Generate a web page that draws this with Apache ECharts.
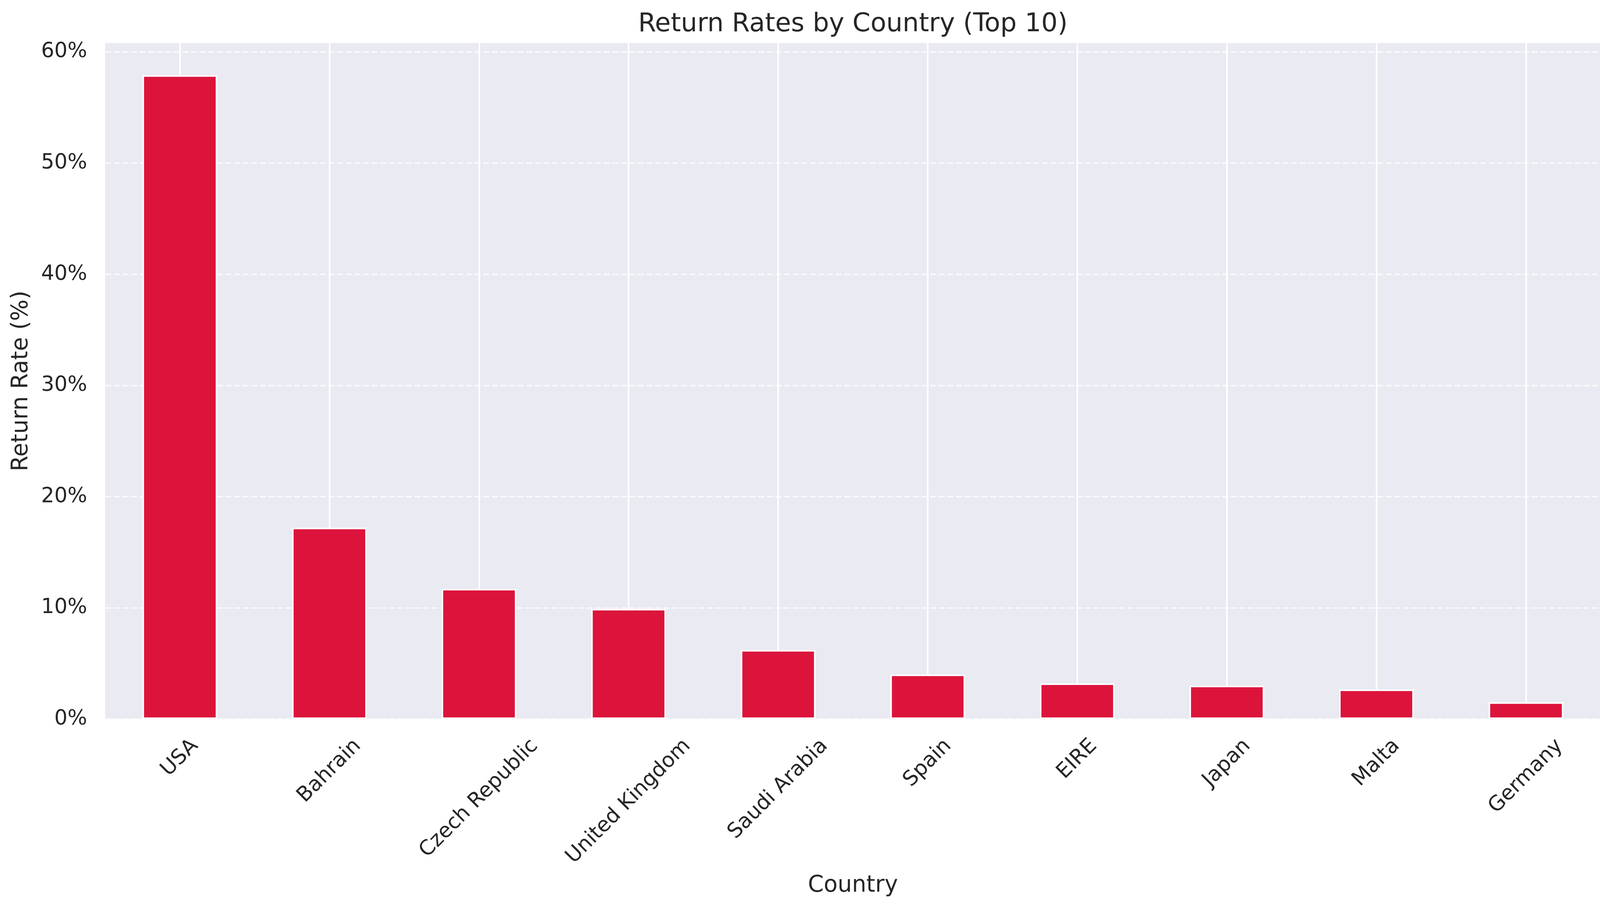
<!DOCTYPE html>
<html><head><meta charset="utf-8">
<script src="https://cdn.jsdelivr.net/npm/echarts@6/dist/echarts.min.js"></script>
<style>html,body{margin:0;padding:0;background:#fff;overflow:hidden}#c{width:4130px;height:2334px}</style>
</head><body><div id="c"></div>
<script>
const countries = ['USA','Bahrain','Czech Republic','United Kingdom','Saudi Arabia','Spain','EIRE','Japan','Malta','Germany'];
const returnRates = [57.9, 17.2, 11.7, 9.9, 6.2, 4.0, 3.2, 3.0, 2.65, 1.5];
const yTickStep = 10;
const titleText = 'Return Rates by Country (Top 10)';
const xName = 'Country';
const yName = 'Return Rate (%)';

const FONT = 'DejaVu Sans';
const TEXT_COLOR = '#262626';
const TICK_FS = 53, LABEL_FS = 58, TITLE_FS = 66;
const W = 4130, H = 2334;
const GRID = {left: 269, right: 32, top: 110, bottom: 494};
const XLABEL_PAD = 39, XLABEL_BOX_H = 62;
const ctx = document.createElement('canvas').getContext('2d');
function textW(t, fs) { ctx.font = fs + 'px "' + FONT + '"'; return ctx.measureText(t).width; }

const plotCx = GRID.left + (W - GRID.left - GRID.right) / 2;
const chart = echarts.init(document.getElementById('c'), null, {renderer: 'canvas', width: W, height: H, devicePixelRatio: 1});
chart.setOption({
  animation: false,
  backgroundColor: '#ffffff',
  textStyle: { fontFamily: FONT, color: TEXT_COLOR },
  title: {
    text: titleText,
    left: plotCx - textW(titleText, TITLE_FS) / 2,
    top: 30,
    padding: 0,
    textStyle: { fontFamily: FONT, fontSize: TITLE_FS, fontWeight: 'normal', color: TEXT_COLOR }
  },
  grid: {
    left: GRID.left, right: GRID.right, top: GRID.top, bottom: GRID.bottom,
    show: true, backgroundColor: '#EAEAF2', borderWidth: 0,
    containLabel: false, outerBoundsMode: 'none'
  },
  xAxis: {
    type: 'category',
    data: countries,
    boundaryGap: true,
    name: xName,
    nameLocation: 'middle',
    nameGap: 398,
    nameMoveOverlap: false,
    nameTextStyle: { fontFamily: FONT, fontSize: LABEL_FS, color: TEXT_COLOR },
    axisLine: { show: false },
    axisTick: { show: false, alignWithLabel: true },
    axisLabel: { show: false, interval: 0 },
    splitLine: { show: true, alignWithLabel: true, interval: 0, lineStyle: { color: '#ffffff', width: 4, type: 'solid' } }
  },
  yAxis: {
    type: 'value',
    min: 0,
    max: Math.max(...returnRates) * 1.05,
    interval: yTickStep,
    name: yName,
    nameLocation: 'middle',
    nameRotate: 90,
    nameGap: 185,
    nameMoveOverlap: false,
    nameTextStyle: { fontFamily: FONT, fontSize: LABEL_FS, color: TEXT_COLOR },
    axisLine: { show: false },
    axisTick: { show: false },
    axisLabel: {
      margin: 46, showMaxLabel: false,
      fontFamily: FONT, fontSize: TICK_FS, color: TEXT_COLOR,
      formatter: v => (Math.abs(v % yTickStep) < 1e-9 ? Math.round(v) + '%' : '')
    },
    splitLine: { show: true, showMaxLine: false, lineStyle: { color: 'rgba(255,255,255,0.7)', width: 4, type: [15.7, 6.3] } }
  },
  series: [{
    type: 'bar',
    data: returnRates,
    barWidth: '50%',
    itemStyle: { color: '#DC143C', borderColor: '#ffffff', borderWidth: 4 },
    emphasis: { disabled: true }
  }]
});

// category tick labels: rotated 45 deg, bounding box centred under each tick (matplotlib rot=45)
const axisY = chart.convertToPixel({yAxisIndex: 0}, 0);
const tickLabels = countries.map(c => {
  const x = chart.convertToPixel({xAxisIndex: 0}, c);
  const w = textW(c, TICK_FS);
  return {
    type: 'text',
    x: x,
    y: axisY + XLABEL_PAD + Math.SQRT1_2 * (w + XLABEL_BOX_H) / 2,
    rotation: Math.PI / 4,
    silent: true,
    style: { text: c, fontFamily: FONT, fontSize: TICK_FS, fill: TEXT_COLOR, align: 'center', verticalAlign: 'middle' }
  };
});
chart.setOption({ graphic: tickLabels });
</script>
</body></html>
